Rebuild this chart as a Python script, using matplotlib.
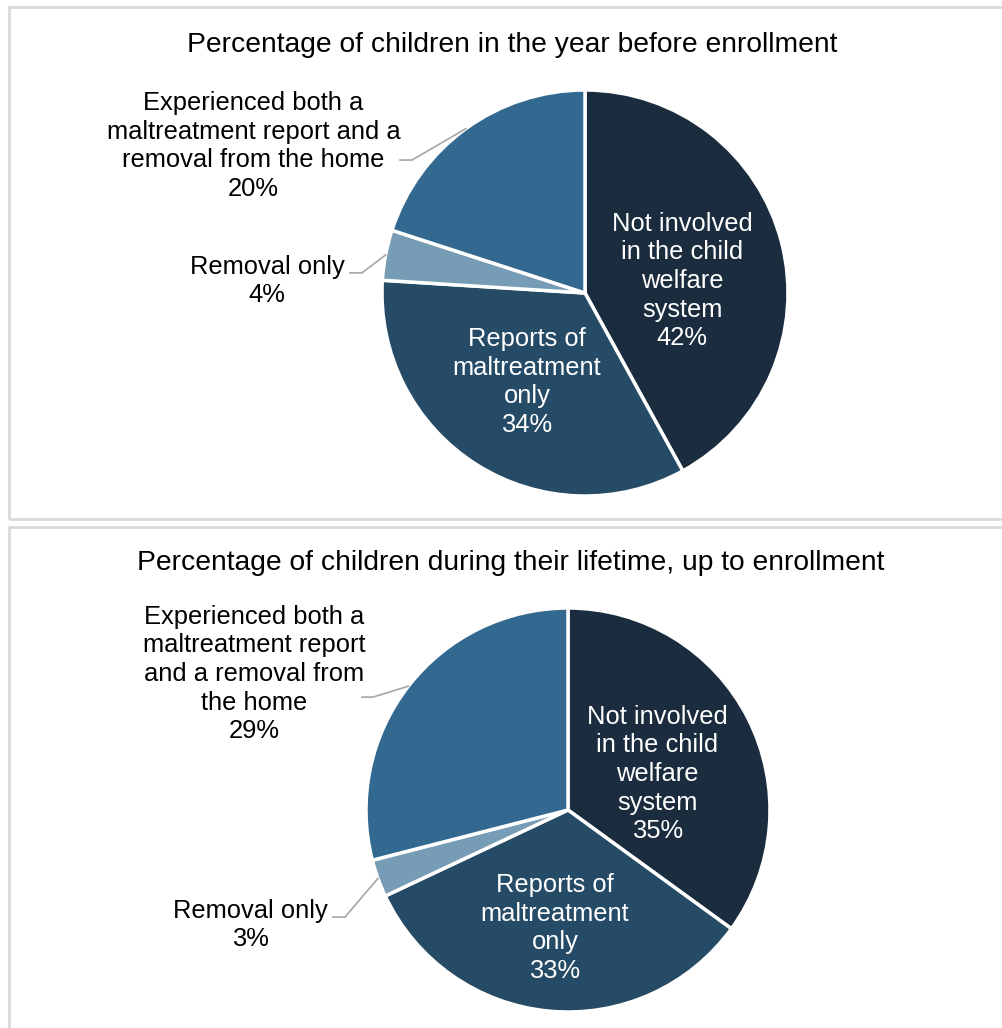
import matplotlib
matplotlib.use("Agg")
import matplotlib.pyplot as plt
from matplotlib.patches import Rectangle
import numpy as np

plt.rcParams['font.family'] = ['Liberation Sans', 'DejaVu Sans']

# data
categories = ["Not involved\nin the child\nwelfare\nsystem",
              "Reports of\nmaltreatment\nonly",
              "Removal only",
              "Experienced both a\nmaltreatment report and a\nremoval from the home"]
cat_bottom_both = "Experienced both a\nmaltreatment report\nand a removal from\nthe home"
year_before = [42, 34, 4, 20]
lifetime = [35, 33, 3, 29]
titles = ["Percentage of children in the year before enrollment",
          "Percentage of children during their lifetime, up to enrollment"]
colors = ["#1a2c3e", "#264b66", "#779db6", "#336990"]

W, H = 1002, 1028
fig = plt.figure(figsize=(W / 100, H / 100), dpi=100)

# panel frames (pixels: x0, y0 top, y1 bottom)
for y0, y1 in [(7, 519), (527, 1040)]:
    fig.patches.append(Rectangle((9 / W, 1 - y1 / H), 1.2, (y1 - y0) / H,
                                 transform=fig.transFigure, fill=False,
                                 edgecolor="#d9d9d9", linewidth=2))


def draw(cx, cy, r, values, labels, title, spots):
    ax = fig.add_axes([(cx - r) / W, 1 - (cy + r) / H, 2 * r / W, 2 * r / H])
    wedges, _ = ax.pie(values, colors=colors, startangle=90, counterclock=False,
                       wedgeprops=dict(edgecolor="white", linewidth=2.5))
    ax.set_xlim(-1, 1)
    ax.set_ylim(-1, 1)
    ax.axis("off")
    ax.text(spots["title"][0], spots["title"][1], title, ha="center", va="center",
            fontsize=20.3, clip_on=False)
    for i, (w, lab, v) in enumerate(zip(wedges, labels, values)):
        x, y = spots[i][0], spots[i][1]
        col = "white" if i < 2 else "black"
        ax.text(x, y, f"{lab}\n{v}%", ha="center", va="center", fontsize=18.4,
                color=col, linespacing=1.24, clip_on=False)
        if i >= 2:
            mid = np.deg2rad((w.theta1 + w.theta2) / 2)
            ex, ey, hx = spots[i][2], spots[i][3], spots[i][4]
            ax.plot([hx, ex, np.cos(mid)], [ey, ey, np.sin(mid)],
                    color="#a6a6a6", lw=1.2, clip_on=False)


draw(585, 293, 203, year_before, categories, titles[0],
     {"title": (-0.36, 1.222),
      0: (0.478, 0.059), 1: (-0.286, -0.438),
      2: (-1.567, 0.059, -1.099, 0.099, -1.158),
      3: (-1.633, 0.724, -0.852, 0.655, -0.911)})

draw(568, 810, 202, lifetime, categories[:3] + [cat_bottom_both], titles[1],
     {"title": (-0.282, 1.223),
      0: (0.441, 0.178), 1: (-0.064, -0.584),
      2: (-1.574, -0.569, -1.104, -0.530, -1.163),
      3: (-1.554, 0.673, -0.965, 0.559, -1.020)})

fig.savefig("out.png", dpi=100)
